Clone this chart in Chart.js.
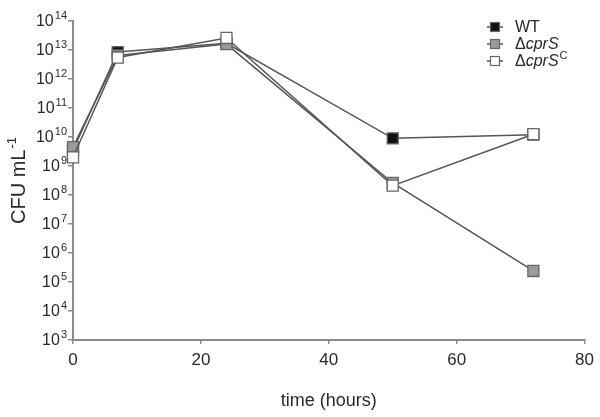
<!DOCTYPE html>
<html>
<head>
<meta charset="utf-8">
<script src="https://cdn.jsdelivr.net/npm/chart.js@4/dist/chart.umd.min.js"></script>
<style>
  html, body { margin: 0; padding: 0; background: #fff; }
  #wrap { width: 600px; height: 417px; }
</style>
</head>
<body>
<div id="wrap"><canvas id="c" width="600" height="417"></canvas></div>
<script>
// ---- data ----
const timeHours = [0, 7, 24, 50, 72];
const wtCFU = [3.5e9, 8.5e12, 1.7e13, 9.0e9, 1.2e10];
const cprSCFU = [4.5e9, 6.5e12, 1.6e13, 2.6e8, 2.4e5];
const cprSCompCFU = [2.0e9, 5.5e12, 2.6e13, 2.1e8, 1.25e10];
const yTickExponents = [3, 4, 5, 6, 7, 8, 9, 10, 11, 12, 13, 14];
const xTickValues = [0, 20, 40, 60, 80];
const seriesNames = ['WT', 'ΔcprS', 'ΔcprSC'];

const FONT = 'Liberation Sans, Arial, sans-serif';
const TEXT = '#2a2a2a';
const AXIS = '#8a8a8a';
const LINE = '#555555';

function pts(ys) { return timeHours.map((t, i) => ({ x: t, y: ys[i] })); }

const fills = ['#111111', '#9a9a9a', '#ffffff'];

const textPlugin = {
  id: 'texts',
  afterDraw(chart) {
    const ctx = chart.ctx;
    const y = chart.scales.y;
    const area = chart.chartArea;
    ctx.save();
    ctx.fillStyle = TEXT;
    // y tick labels 10^n
    yTickExponents.forEach(e => {
      const py = y.getPixelForValue(Math.pow(10, e));
      ctx.font = '16px ' + FONT;
      const wBase = ctx.measureText('10').width;
      ctx.font = '11px ' + FONT;
      const wExp = ctx.measureText(String(e)).width;
      const right = area.left - 6;
      const x0 = right - wBase - wExp - 1;
      ctx.textBaseline = 'middle';
      ctx.textAlign = 'left';
      ctx.font = '16px ' + FONT;
      ctx.fillText('10', x0, py + 1);
      ctx.font = '11px ' + FONT;
      ctx.fillText(String(e), x0 + wBase + 1, py - 5);
    });
    // y title "CFU mL-1"
    ctx.save();
    ctx.translate(19, (area.top + area.bottom) / 2);
    ctx.rotate(-Math.PI / 2);
    ctx.font = '20px ' + FONT;
    const t1 = 'CFU mL';
    const w1 = ctx.measureText(t1).width;
    ctx.font = '13px ' + FONT;
    const w2 = ctx.measureText('-1').width;
    const tot = w1 + w2 + 1;
    ctx.textBaseline = 'middle';
    ctx.textAlign = 'left';
    ctx.font = '20px ' + FONT;
    ctx.fillText(t1, -tot / 2, 0);
    ctx.font = '13px ' + FONT;
    ctx.fillText('-1', -tot / 2 + w1 + 1, -7);
    ctx.restore();
    // x title
    ctx.font = '18px ' + FONT;
    ctx.textAlign = 'center';
    ctx.textBaseline = 'middle';
    ctx.fillText('time (hours)', (area.left + area.right) / 2, 401);

    // legend
    const lx = 495, ly = [27, 44, 61];
    seriesNames.forEach((name, i) => {
      const cy = ly[i];
      ctx.strokeStyle = LINE;
      ctx.lineWidth = 1.5;
      ctx.beginPath();
      ctx.moveTo(lx - 8, cy);
      ctx.lineTo(lx + 8, cy);
      ctx.stroke();
      ctx.fillStyle = fills[i];
      ctx.fillRect(lx - 4.5, cy - 4.5, 9, 9);
      ctx.strokeStyle = '#666';
      ctx.lineWidth = 1.2;
      ctx.strokeRect(lx - 4.5, cy - 4.5, 9, 9);
      ctx.fillStyle = TEXT;
      ctx.textAlign = 'left';
      ctx.textBaseline = 'middle';
      let x = 515;
      if (i === 0) {
        ctx.font = '16px ' + FONT;
        ctx.fillText('WT', x, cy + 1);
      } else {
        ctx.font = '16px ' + FONT;
        ctx.fillText('Δ', x, cy + 1);
        x += ctx.measureText('Δ').width;
        ctx.font = 'italic 16px ' + FONT;
        ctx.fillText('cprS', x, cy + 1);
        x += ctx.measureText('cprS').width;
        if (i === 2) {
          ctx.font = '11px ' + FONT;
          ctx.fillText('C', x + 1, cy - 5);
        }
      }
    });
    ctx.restore();
  }
};

const ds = (label, data, fill, order) => ({
  label, data: pts(data), order, clip: false,
  borderColor: LINE, borderWidth: 1.5, tension: 0,
  pointStyle: 'rect', pointRadius: 7.8, pointHoverRadius: 7.8,
  pointBackgroundColor: fill, pointBorderColor: '#666', pointBorderWidth: 1.3,
  fill: false
});

new Chart(document.getElementById('c'), {
  type: 'line',
  data: {
    datasets: [
      ds(seriesNames[0], wtCFU, fills[0], 2),
      ds(seriesNames[1], cprSCFU, fills[1], 1),
      ds(seriesNames[2], cprSCompCFU, fills[2], 0)
    ]
  },
  options: {
    responsive: false,
    animation: false,
    devicePixelRatio: 1,
    layout: { padding: { left: 0, top: 21, right: 15, bottom: 0 } },
    plugins: { legend: { display: false }, tooltip: { enabled: false } },
    scales: {
      x: {
        type: 'linear', min: 0, max: 80,
        afterBuildTicks: s => { s.ticks = xTickValues.map(v => ({ value: v })); },
        afterFit: s => { s.height = 77; },
        grid: { drawOnChartArea: false, drawTicks: true, tickLength: 4, color: AXIS, lineWidth: 1.5 },
        border: { display: true, color: AXIS, width: 2 },
        ticks: { color: TEXT, font: { family: FONT, size: 17 }, padding: 6, maxRotation: 0 }
      },
      y: {
        type: 'logarithmic', min: 1e3, max: 1e14,
        afterBuildTicks: s => { s.ticks = yTickExponents.map(e => ({ value: Math.pow(10, e) })); },
        afterFit: s => { s.width = 73; },
        grid: { drawOnChartArea: false, drawTicks: true, tickLength: 5, color: AXIS, lineWidth: 1.5 },
        border: { display: true, color: AXIS, width: 2 },
        ticks: { display: false }
      }
    }
  },
  plugins: [textPlugin]
});
</script>
</body>
</html>
